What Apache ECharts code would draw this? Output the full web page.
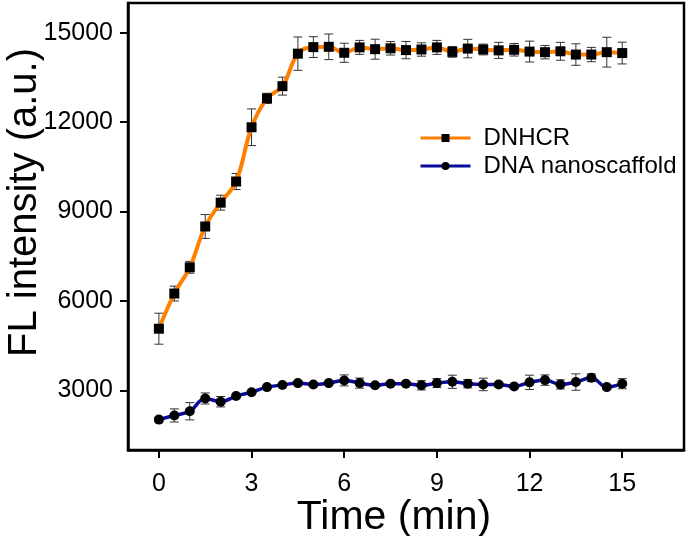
<!DOCTYPE html>
<html>
<head>
<meta charset="utf-8">
<script src="https://cdn.jsdelivr.net/npm/echarts@6/dist/echarts.min.js"></script>
<style>html,body{margin:0;padding:0;background:#fff}#c{width:688px;height:536px}</style>
</head>
<body>
<div id="c"></div>
<script>
const times = [0,0.5,1,1.5,2,2.5,3,3.5,4,4.5,5,5.5,6,6.5,7,7.5,8,8.5,9,9.5,10,10.5,11,11.5,12,12.5,13,13.5,14,14.5,15];
const dnhcr = [5070,6250,7130,8500,9300,10010,11830,12800,13210,14300,14520,14530,14330,14510,14450,14480,14420,14440,14510,14360,14470,14440,14410,14430,14370,14350,14380,14270,14270,14350,14320];
const dnhcrErr = [520,250,200,400,250,270,615,170,300,560,350,430,320,235,335,225,290,225,235,180,310,180,270,210,350,225,300,360,240,500,365];
const scaffold = [2020,2160,2300,2730,2620,2810,2940,3110,3180,3245,3200,3245,3335,3245,3170,3225,3225,3170,3245,3290,3225,3200,3200,3135,3270,3345,3200,3280,3425,3110,3225];
const scaffoldErr = [80,220,290,185,175,60,60,50,50,60,50,50,185,170,60,60,60,155,150,220,140,210,80,60,240,175,155,275,130,60,170];
const xTicks = [0,3,6,9,12,15];
const yTicks = [3000,6000,9000,12000,15000];
const seriesNames = ['DNHCR','DNA nanoscaffold'];

function pairs(vals){ return times.map((t,i)=>[t, vals[i]]); }
function errs(vals, e){ return times.map((t,i)=>[t, vals[i]-e[i], vals[i]+e[i]]); }
function errRender(params, api){
  const x = api.value(0), lo = api.value(1), hi = api.value(2);
  const a = api.coord([x, hi]), b = api.coord([x, lo]);
  const w = 4.5;
  const st = {stroke:'#333', lineWidth:1};
  return {type:'group', children:[
    {type:'line', shape:{x1:a[0],y1:a[1],x2:b[0],y2:b[1]}, style:st},
    {type:'line', shape:{x1:a[0]-w,y1:a[1],x2:a[0]+w,y2:a[1]}, style:st},
    {type:'line', shape:{x1:b[0]-w,y1:b[1],x2:b[0]+w,y2:b[1]}, style:st}
  ]};
}
const font = '"Liberation Sans", Arial, Helvetica, sans-serif';
const chart = echarts.init(document.getElementById('c'));
chart.setOption({
  animation:false,
  textStyle:{fontFamily:font},
  grid:{left:128, right:4, top:3, bottom:86, show:true, borderColor:'#000', borderWidth:2.5, containLabel:false, outerBoundsMode:'none'},
  legend:{
    orient:'vertical', left:419, top:126, padding:0, itemWidth:50, itemHeight:10, itemGap:4,
    lineStyle:{width:3},
    textStyle:{fontFamily:font, fontSize:24, color:'#000', padding:[0,0,0,8]},
    data:seriesNames
  },
  xAxis:{
    type:'value', min:-1, max:17,
    name:'Time (min)', nameLocation:'middle', nameGap:47, nameMoveOverlap:false,
    nameTextStyle:{fontFamily:font, fontSize:41, color:'#000', padding:[0,24,0,0]},
    axisLine:{show:true, onZero:false, lineStyle:{color:'#000', width:2.5}},
    axisTick:{show:true, inside:false, length:8, lineStyle:{color:'#000', width:2}, customValues:xTicks},
    axisLabel:{fontFamily:font, fontSize:25, color:'#000', margin:22, customValues:xTicks, formatter:v=>String(v)},
    splitLine:{show:false}
  },
  yAxis:{
    type:'value', min:1000, max:16000,
    name:'FL intensity (a.u.)', nameLocation:'middle', nameGap:83, nameMoveOverlap:false,
    nameTextStyle:{fontFamily:font, fontSize:40, color:'#000', padding:[0,0,0,48]},
    axisLine:{show:true, onZero:false, lineStyle:{color:'#000', width:2.5}},
    axisTick:{show:true, inside:false, length:8, lineStyle:{color:'#000', width:2}, customValues:yTicks},
    axisLabel:{fontFamily:font, fontSize:25, color:'#000', margin:15, customValues:yTicks, formatter:v=>String(v)},
    splitLine:{show:false}
  },
  series:[
    {type:'custom', name:'errA', renderItem:errRender, data:errs(dnhcr, dnhcrErr), z:1, silent:true},
    {type:'custom', name:'errB', renderItem:errRender, data:errs(scaffold, scaffoldErr), z:1, silent:true},
    {type:'line', name:seriesNames[0], data:pairs(dnhcr), smooth:0.4, symbol:'rect', symbolSize:10,
     lineStyle:{color:'#ff8000', width:4}, itemStyle:{color:'#000'}, z:3},
    {type:'line', name:seriesNames[1], data:pairs(scaffold), smooth:0.4, symbol:'circle', symbolSize:10,
     lineStyle:{color:'#0a0a9c', width:3.5}, itemStyle:{color:'#000'}, z:3}
  ]
});
</script>
</body>
</html>
